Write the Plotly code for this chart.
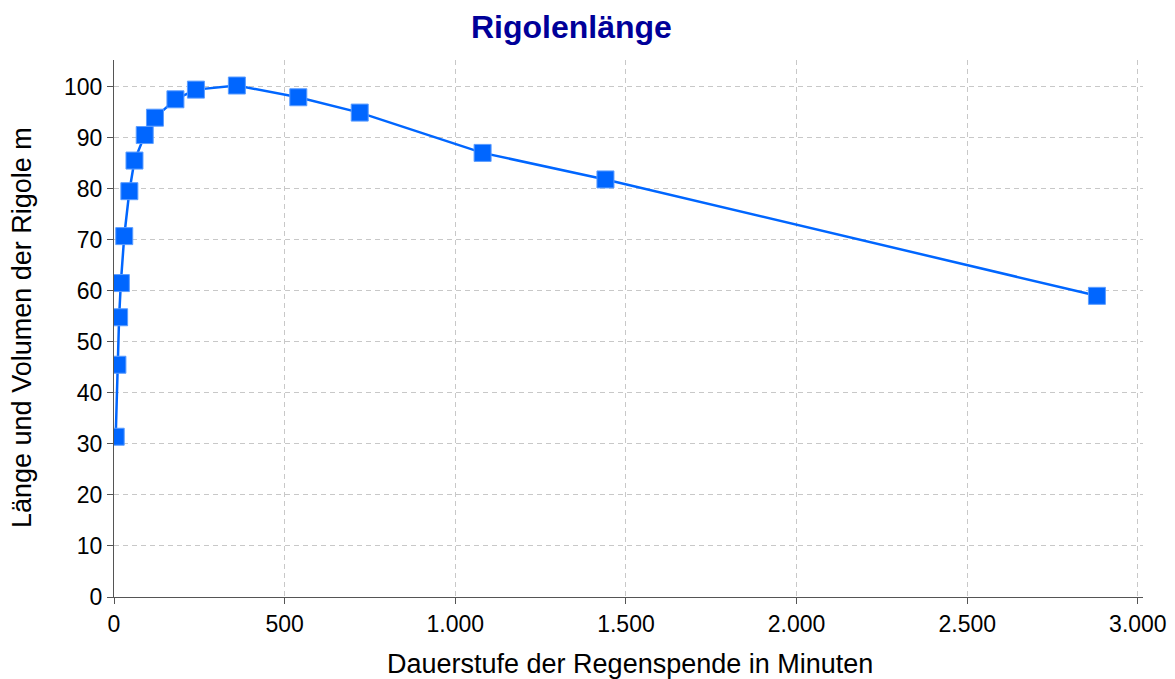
import plotly.graph_objects as go

# Data
dauer_min = [5, 10, 15, 20, 30, 45, 60, 90, 120, 180, 240, 360, 540, 720, 1080, 1440, 2880]
laenge_m = [31.4, 45.5, 54.8, 61.5, 70.7, 79.5, 85.5, 90.5, 93.9, 97.5, 99.4, 100.2, 97.9, 94.9, 87.0, 81.8, 59.0]

title_text = "Rigolenlänge"
x_title = "Dauerstufe der Regenspende in Minuten"
y_title = "Länge und Volumen der Rigole m"

blue = "#0066ff"
font_family = "Liberation Sans, Arial, sans-serif"

fig = go.Figure()
fig.add_trace(go.Scatter(
    x=dauer_min, y=laenge_m, mode="lines+markers",
    line=dict(color=blue, width=2.5),
    marker=dict(symbol="square", size=17, color=blue, line=dict(color="#5c9dff", width=1)),
    showlegend=False,
    cliponaxis=True,
))

W, H = 1175, 679
OFF = 8  # page body margin offset
L, R, T, B = 114 - OFF, 1175 - 1143 + OFF, 60 - OFF, 679 - 597 + OFF
PW, PH = W - L - R, H - T - B
fig.update_layout(
    width=W, height=H,
    paper_bgcolor="white", plot_bgcolor="white",
    margin=dict(l=L, r=R, t=T, b=B),
    separators=",.",
    font=dict(family=font_family, size=23, color="black"),
    annotations=[
        dict(text=f"<b>{title_text}</b>", xref="paper", yref="paper",
             x=(571 - 114) / PW, y=1 + (60 - 27) / PH,
             xanchor="center", yanchor="middle", showarrow=False,
             font=dict(size=32, color="#000099", family=font_family)),
        dict(text=x_title, xref="paper", yref="paper",
             x=(630 - 114) / PW, y=-(664 - 597) / PH,
             xanchor="center", yanchor="middle", showarrow=False,
             font=dict(size=27, color="black", family=font_family)),
        dict(text=y_title, xref="paper", yref="paper", textangle=-90,
             x=-(114 - 22) / PW, y=(597 - 328) / PH,
             xanchor="center", yanchor="middle", showarrow=False,
             font=dict(size=27, color="black", family=font_family)),
    ],
)

fig.update_xaxes(
    range=[0, 3015], tick0=0, dtick=500, tickformat=",d",
    showgrid=True, gridcolor="#c8c8c8", griddash="5px,4px", gridwidth=1,
    showline=True, linecolor="#555555", linewidth=1,
    ticks="outside", ticklen=6, tickcolor="#555555",
    zeroline=False, automargin=False,
    tickfont=dict(size=23),
)
fig.update_yaxes(
    range=[0, 105.2], tick0=0, dtick=10,
    showgrid=True, gridcolor="#c8c8c8", griddash="5px,4px", gridwidth=1,
    showline=True, linecolor="#555555", linewidth=1,
    ticks="outside", ticklen=6, tickcolor="#555555",
    zeroline=False, automargin=False,
    tickfont=dict(size=23),
)

fig.write_html("out.html")
